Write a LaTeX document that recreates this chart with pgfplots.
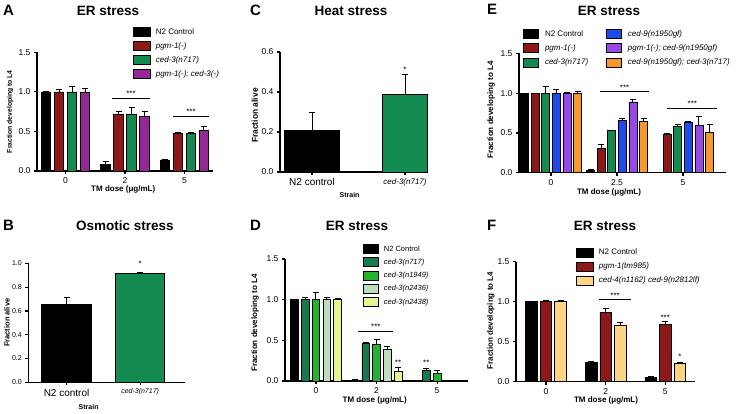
\documentclass[border=0pt]{standalone}
\usepackage{fontspec}
\setmainfont{Liberation Sans}
\usepackage{pgfplots}
\pgfplotsset{compat=1.18}
\newcommand{\fs}[1]{\fontsize{#1}{#1}\selectfont}
\definecolor{cred}{RGB}{140,24,24}
\definecolor{cgreen}{RGB}{18,138,80}
\definecolor{cpurple}{RGB}{148,40,148}
\definecolor{cblue}{RGB}{30,76,235}
\definecolor{cviolet}{RGB}{152,72,230}
\definecolor{corange}{RGB}{248,152,44}
\definecolor{dgreenA}{RGB}{22,122,78}
\definecolor{dgreenB}{RGB}{34,180,48}
\definecolor{dgreenC}{RGB}{188,222,188}
\definecolor{dgreenD}{RGB}{228,246,140}
\definecolor{fpeach}{RGB}{255,212,130}
\pgfplotsset{
  prism/.style={
    scale only axis,
    axis x line*=bottom, axis y line*=left,
    axis line style={-, line width=1.2pt, black},
    tick align=outside,
    major tick length=3pt,
    tick style={black, line width=1.2pt},
    /pgf/number format/assume math mode=true,
    ymin=0, clip=false, enlargelimits=false,
    error bars/y dir=plus, error bars/y explicit,
    error bars/error bar style={line width=1pt, black},
    error bars/error mark options={rotate=90, line width=1pt, black, mark size=3pt},
    yticklabel style={/pgf/number format/fixed, /pgf/number format/fixed zerofill, /pgf/number format/precision=1},
    every axis plot/.append style={draw=black, line width=0.7pt},
    legend cell align=left,
  },
  sw/.style={legend image code/.code={\draw[##1, line width=0.7pt] (0pt,-4.5pt) rectangle (17pt,4.5pt);}},
  sws/.style={legend image code/.code={\draw[##1, line width=0.7pt] (0pt,-4.5pt) rectangle (15pt,4.5pt);}},
}
\begin{document}
\begin{tikzpicture}
\useasboundingbox (0,0) rectangle (736pt,413pt);
% ---------- panel letters and titles
\node[font=\bfseries\fs{15}, anchor=west, inner sep=0pt] at (3pt,403pt) {A};
\node[font=\bfseries\fs{13.5}] at (108pt,402pt) {ER stress};
\node[font=\bfseries\fs{15}, anchor=west, inner sep=0pt] at (3pt,188pt) {B};
\node[font=\bfseries\fs{13.5}] at (125pt,187pt) {Osmotic stress};
\node[font=\bfseries\fs{15}, anchor=west, inner sep=0pt] at (250pt,403pt) {C};
\node[font=\bfseries\fs{13.5}] at (351pt,402pt) {Heat stress};
\node[font=\bfseries\fs{15}, anchor=west, inner sep=0pt] at (250pt,188pt) {D};
\node[font=\bfseries\fs{13.5}] at (357pt,187pt) {ER stress};
\node[font=\bfseries\fs{15}, anchor=west, inner sep=0pt] at (487pt,404pt) {E};
\node[font=\bfseries\fs{13.5}] at (609pt,402pt) {ER stress};
\node[font=\bfseries\fs{15}, anchor=west, inner sep=0pt] at (487pt,188pt) {F};
\node[font=\bfseries\fs{13.5}] at (605pt,187pt) {ER stress};

% ---------- A
\begin{axis}[ybar=3.5pt, bar width=9.5pt, prism, sw,
  at={(37pt,242pt)}, anchor=south west, width=176pt, height=118.7pt,
  xmin=-0.48, xmax=2.48, ymax=1.5, ytick={0,0.5,1,1.5},
  xtick={0,1,2}, xticklabels={0,2,5},
  yticklabel style={font=\fs{8.5}}, xticklabel style={font=\fs{8.5}},
  xlabel={TM dose (μg/mL)}, ylabel={Fraction developing to L4},
  xlabel style={font=\bfseries\fs{8}, at={(axis description cs:0.49,-0.152)}, anchor=center},
  ylabel style={font=\bfseries\fs{6.8}, at={(axis description cs:-0.153,0.5)}, anchor=center},
  legend style={draw=none, fill=none, font=\fs{8}, at={(axis description cs:0.545,1.213)}, anchor=north west,
    inner sep=0pt, row sep=4.3pt, nodes={inner sep=0pt}, /tikz/every odd column/.append style={column sep=5pt}},
]
\addplot[fill=black] coordinates {(0,1.0) +- (0,0.008) (1,0.08) +- (0,0.04) (2,0.14) +- (0,0.005)};
\addlegendentry{N2 Control}
\addplot[fill=cred] coordinates {(0,1.0) +- (0,0.03) (1,0.72) +- (0,0.035) (2,0.47) +- (0,0.012)};
\addlegendentry{\itshape pgm-1(-)}
\addplot[fill=cgreen] coordinates {(0,1.0) +- (0,0.065) (1,0.71) +- (0,0.09) (2,0.47) +- (0,0.012)};
\addlegendentry{\itshape ced-3(n717)}
\addplot[fill=cpurple] coordinates {(0,1.0) +- (0,0.04) (1,0.69) +- (0,0.06) (2,0.51) +- (0,0.05)};
\addlegendentry{\itshape pgm-1(-); ced-3(-)}
\draw[line width=1pt] (axis cs:0.78,0.91) -- (axis cs:1.42,0.91);
\node[font=\fs{8}, anchor=base, inner sep=0pt] at (axis cs:1.10,0.94) {***};
\draw[line width=1pt] (axis cs:1.81,0.683) -- (axis cs:2.41,0.683);
\node[font=\fs{8}, anchor=base, inner sep=0pt] at (axis cs:2.11,0.71) {***};
\end{axis}

% ---------- B
\begin{axis}[ybar, prism,
  at={(28.3pt,30.7pt)}, anchor=south west, width=156.7pt, height=119pt,
  xmin=-0.52, xmax=1.61, ymax=1.0, ytick={0,0.2,0.4,0.6,0.8,1.0},
  xtick={0,1}, xticklabels={{\fs{10}N2 control},{\fs{7}\itshape ced-3(n717)}},
  yticklabel style={font=\fs{7}},
  xlabel={Strain}, ylabel={Fraction alive},
  xlabel style={font=\bfseries\fs{7}, at={(axis description cs:0.385,-0.21)}, anchor=center},
  ylabel style={font=\bfseries\fs{7.5}, at={(axis description cs:-0.136,0.5)}, anchor=center},
]
\addplot[fill=black, bar width=50pt, bar shift=0pt] coordinates {(0,0.655) +- (0,0.055)};
\addplot[fill=cgreen, bar width=49pt, bar shift=0pt] coordinates {(1,0.918) +- (0,0.003)};
\node[font=\fs{8}, anchor=base, inner sep=0pt] at (axis cs:1,0.974) {*};
\end{axis}

% ---------- C
\begin{axis}[ybar, prism,
  at={(280pt,241pt)}, anchor=south west, width=148pt, height=120pt,
  xmin=-0.344, xmax=1.247, ymax=0.6, ytick={0,0.2,0.4,0.6},
  xtick={0,1}, xticklabels={{\fs{10}N2 control},{\fs{8}\itshape ced-3(n717)}},
  yticklabel style={font=\fs{8.5}},
  xlabel={Strain}, ylabel={Fraction alive},
  xlabel style={font=\bfseries\fs{7}, at={(axis description cs:0.47,-0.19)}, anchor=center},
  ylabel style={font=\bfseries\fs{8.5}, at={(axis description cs:-0.17,0.47)}, anchor=center},
]
\addplot[fill=black, bar width=55pt, bar shift=0pt] coordinates {(0,0.21) +- (0,0.09)};
\addplot[fill=cgreen, bar width=45pt, bar shift=0pt] coordinates {(1,0.39) +- (0,0.10)};
\node[font=\fs{8}, anchor=base, inner sep=0pt] at (axis cs:1,0.50) {*};
\end{axis}

% ---------- D
\begin{axis}[ybar=3.3pt, bar width=7.5pt, prism, sws,
  at={(285pt,32pt)}, anchor=south west, width=183pt, height=122pt,
  xmin=-0.51, xmax=2.51, ymax=1.5, ytick={0,0.5,1,1.5},
  xtick={0,1,2}, xticklabels={0,2,5},
  yticklabel style={font=\fs{8.5}}, xticklabel style={font=\fs{8.5}},
  xlabel={TM dose (μg/mL)}, ylabel={Fraction developing to L4},
  xlabel style={font=\bfseries\fs{8}, at={(axis description cs:0.49,-0.156)}, anchor=center},
  ylabel style={font=\bfseries\fs{8}, at={(axis description cs:-0.164,0.475)}, anchor=center},
  legend style={draw=none, fill=none, font=\fs{7.5}, at={(axis description cs:0.426,1.123)}, anchor=north west,
    inner sep=0pt, row sep=3.6pt, nodes={inner sep=0pt}, /tikz/every odd column/.append style={column sep=5pt}},
]
\addplot[fill=black] coordinates {(0,1.0) +- (0,0.005) (1,0.01) +- (0,0.005)};
\addlegendentry{N2 Control}
\addplot[fill=dgreenA] coordinates {(0,1.0) +- (0,0.025) (1,0.46) +- (0,0.01) (2,0.13) +- (0,0.025)};
\addlegendentry{\itshape ced-3(n717)}
\addplot[fill=dgreenB] coordinates {(0,1.0) +- (0,0.09) (1,0.45) +- (0,0.065) (2,0.09) +- (0,0.035)};
\addlegendentry{\itshape ced-3(n1949)}
\addplot[fill=dgreenC] coordinates {(0,1.0) +- (0,0.025) (1,0.39) +- (0,0.04)};
\addlegendentry{\itshape ced-3(n2436)}
\addplot[fill=dgreenD] coordinates {(0,1.0) +- (0,0.01) (1,0.12) +- (0,0.05)};
\addlegendentry{\itshape ced-3(n2438)}
\draw[line width=1pt] (axis cs:0.695,0.606) -- (axis cs:1.272,0.606);
\node[font=\fs{8}, anchor=base, inner sep=0pt] at (axis cs:0.99,0.63) {***};
\node[font=\fs{8}, anchor=base, inner sep=0pt] at (axis cs:1.356,0.188) {**};
\node[font=\fs{8}, anchor=base, inner sep=0pt] at (axis cs:1.822,0.188) {**};
\end{axis}

% ---------- E
\begin{axis}[ybar=2.6pt, bar width=8pt, prism, sws,
  at={(519pt,240.3pt)}, anchor=south west, width=207pt, height=119.4pt,
  xmin=-0.485, xmax=2.65, ymax=1.5, ytick={0,0.5,1,1.5},
  xtick={0,1,2}, xticklabels={0,2.5,5},
  yticklabel style={font=\fs{8.5}}, xticklabel style={font=\fs{8.5}},
  xlabel={TM dose (μg/mL)}, ylabel={Fraction developing to L4},
  xlabel style={font=\bfseries\fs{8}, at={(axis description cs:0.435,-0.162)}, anchor=center},
  ylabel style={font=\bfseries\fs{8}, at={(axis description cs:-0.135,0.525)}, anchor=center},
  legend columns=3, transpose legend,
  legend style={draw=none, fill=none, font=\fs{8}, at={(axis description cs:0.02,1.203)}, anchor=north west,
    inner sep=0pt, row sep=4.5pt, nodes={inner sep=0pt}, /tikz/every odd column/.append style={column sep=6pt},
    /tikz/every even column/.append style={column sep=18pt}},
]
\addplot[fill=black] coordinates {(0,1.0) (1,0.03) +- (0,0.005)};
\addlegendentry{N2 Control}
\addplot[fill=cred] coordinates {(0,1.0) (1,0.31) +- (0,0.04) (2,0.48) +- (0,0.01)};
\addlegendentry{\itshape pgm-1(-)}
\addplot[fill=cgreen] coordinates {(0,1.0) +- (0,0.08) (1,0.53) (2,0.58) +- (0,0.025)};
\addlegendentry{\itshape ced-3(n717)}
\addplot[fill=cblue] coordinates {(0,1.0) +- (0,0.05) (1,0.66) +- (0,0.015) (2,0.63) +- (0,0.01)};
\addlegendentry{\itshape ced-9(n1950gf)}
\addplot[fill=cviolet] coordinates {(0,1.0) +- (0,0.01) (1,0.89) +- (0,0.03) (2,0.60) +- (0,0.11)};
\addlegendentry{\itshape pgm-1(-); ced-9(n1950gf)}
\addplot[fill=corange] coordinates {(0,1.0) +- (0,0.025) (1,0.64) +- (0,0.04) (2,0.51) +- (0,0.09)};
\addlegendentry{\itshape ced-9(n1950gf); ced-3(n717)}
\draw[line width=1pt] (axis cs:0.742,1.02) -- (axis cs:1.485,1.02);
\node[font=\fs{8}, anchor=base, inner sep=0pt] at (axis cs:1.115,1.03) {***};
\draw[line width=1pt] (axis cs:1.76,0.81) -- (axis cs:2.52,0.81);
\node[font=\fs{8}, anchor=base, inner sep=0pt] at (axis cs:2.14,0.833) {***};
\end{axis}

% ---------- F
\begin{axis}[ybar=3pt, bar width=11.5pt, prism, sw,
  at={(516pt,31.3pt)}, anchor=south west, width=179pt, height=120pt,
  xmin=-0.504, xmax=2.50, ymax=1.5, ytick={0,0.5,1,1.5},
  xtick={0,1,2}, xticklabels={0,2,5},
  yticklabel style={font=\fs{8.5}}, xticklabel style={font=\fs{8.5}},
  xlabel={TM dose (μg/mL)}, ylabel={Fraction developing to L4},
  xlabel style={font=\bfseries\fs{8}, at={(axis description cs:0.503,-0.16)}, anchor=center},
  ylabel style={font=\bfseries\fs{8}, at={(axis description cs:-0.14,0.51)}, anchor=center},
  legend style={draw=none, fill=none, font=\fs{8}, at={(axis description cs:0.335,1.12)}, anchor=north west,
    inner sep=0pt, row sep=4.3pt, nodes={inner sep=0pt}, /tikz/every odd column/.append style={column sep=5pt}},
]
\addplot[fill=black] coordinates {(0,1.0) (1,0.24) +- (0,0.01) (2,0.05) +- (0,0.02)};
\addlegendentry{N2 Control}
\addplot[fill=cred] coordinates {(0,1.0) +- (0,0.01) (1,0.87) +- (0,0.045) (2,0.72) +- (0,0.03)};
\addlegendentry{\itshape pgm-1(tm985)}
\addplot[fill=fpeach] coordinates {(0,1.0) +- (0,0.01) (1,0.71) +- (0,0.03) (2,0.23) +- (0,0.01)};
\addlegendentry{\itshape ced-4(n1162) ced-9(n2812lf)}
\draw[line width=1pt] (axis cs:0.889,1.03) -- (axis cs:1.426,1.03);
\node[font=\fs{8}, anchor=base, inner sep=0pt] at (axis cs:1.16,1.04) {***};
\node[font=\fs{8}, anchor=base, inner sep=0pt] at (axis cs:2.0,0.766) {***};
\node[font=\fs{8}, anchor=base, inner sep=0pt] at (axis cs:2.245,0.275) {*};
\end{axis}
\end{tikzpicture}
\end{document}
